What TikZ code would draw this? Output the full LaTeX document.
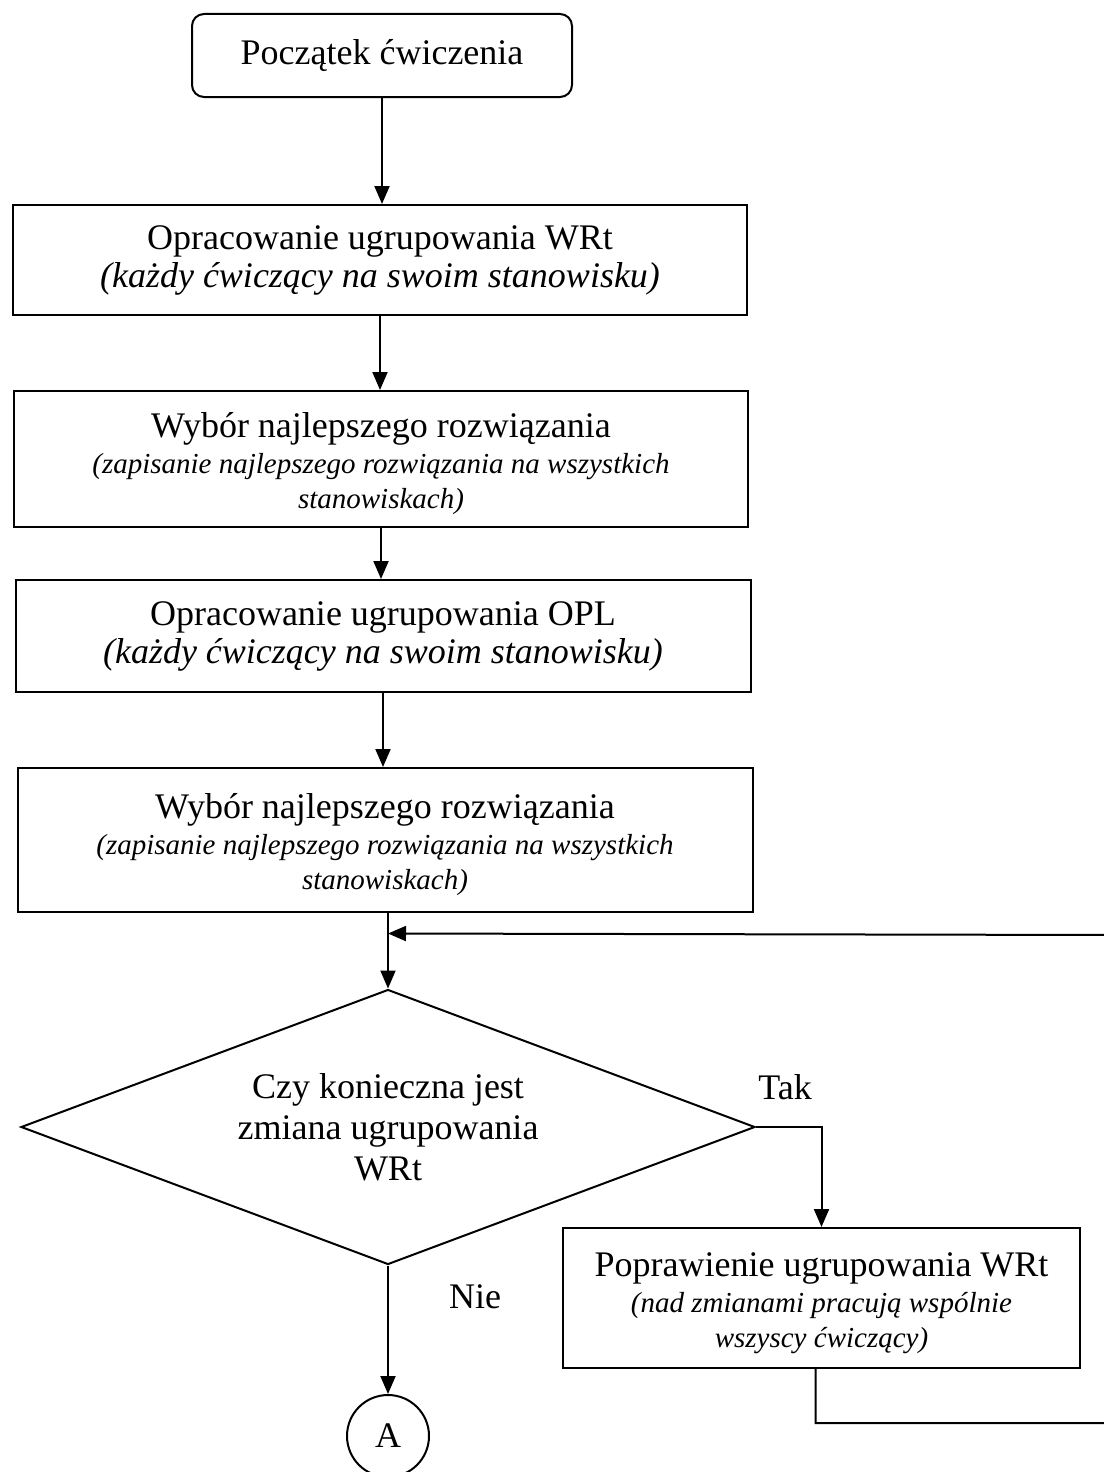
\documentclass[tikz,border=0pt]{standalone}
\usepackage{fontspec}
\setmainfont{Liberation Serif}
\usetikzlibrary{arrows.meta,shapes.geometric,calc}

% italic sub-caption lines
\newcommand\smallit{\fontsize{29}{32}\selectfont\itshape}
% extra headroom above a caption's first line
\newcommand\headroom{\rule{0pt}{35pt}}

\begin{document}
\begin{tikzpicture}[x=1pt,y=-1pt,
  every node/.style={font=\fontsize{36}{39}\selectfont},
  flowbox/.style={draw, line width=2pt, inner sep=0pt, align=center},
  link/.style={line width=2pt},
  arr/.style={link, -{Triangle[length=18pt,width=15pt]}},
  lbl/.style={inner sep=0pt}
]
\useasboundingbox (0,0) rectangle (1103,1472);

% process steps
\node[flowbox, rounded corners=12pt, minimum width=380pt, minimum height=83pt]
  (start) at (382,55.5) {Początek ćwiczenia};

\node[flowbox, minimum width=734pt, minimum height=110pt] (wrt) at (380,260)
  {Opracowanie ugrupowania WRt\\[-1pt]\textit{(każdy ćwiczący na swoim stanowisku)}};

\node[flowbox, minimum width=734pt, minimum height=136pt] (best1) at (381,459)
  {\headroom Wybór najlepszego rozwiązania\\[-3pt]\smallit (zapisanie najlepszego rozwiązania na wszystkich\\[-4pt]\smallit stanowiskach)};

\node[flowbox, minimum width=735pt, minimum height=112pt] (opl) at (383,636)
  {Opracowanie ugrupowania OPL\\[-1pt]\textit{(każdy ćwiczący na swoim stanowisku)}};

\node[flowbox, minimum width=735pt, minimum height=144pt] (best2) at (385,840)
  {\headroom Wybór najlepszego rozwiązania\\[-3pt]\smallit (zapisanie najlepszego rozwiązania na wszystkich\\[-4pt]\smallit stanowiskach)};

% decision
\node[draw, line width=2pt, diamond, shape aspect=2.67, inner sep=0pt,
  minimum width=734pt, minimum height=275pt, align=center] (dec) at (388,1127)
  {Czy konieczna jest\\[2pt]zmiana ugrupowania\\[2pt]WRt};

\node[flowbox, minimum width=517pt, minimum height=140pt] (fix) at (821.5,1298)
  {\headroom Poprawienie ugrupowania WRt\\[-3pt]\smallit (nad zmianami pracują wspólnie\\[-4pt]\smallit wszyscy ćwiczący)};

\node[draw, line width=2pt, circle, minimum size=82pt, inner sep=0pt] (A) at (388,1436) {A};

% branch labels
\node[lbl] (yes) at (785,1087) {Tak};
\node[lbl] (no) at (475,1297) {Nie};

% connectors
\draw[arr] (start.south) -- (start.south |- wrt.north);
\draw[arr] (wrt.south) -- (wrt.south |- best1.north);
\draw[arr] (best1.south) -- (best1.south |- opl.north);
\draw[arr] (opl.south) -- (opl.south |- best2.north);
\draw[arr] (best2.south -| dec.north) -- (dec.north);

\path (dec.north) ++(0,-55) coordinate (merge);
\draw[arr] (dec.east) -| (fix.north);
\draw[arr] (dec.south) -- (A.north);

% loop back from the correction step
\coordinate (fixout) at ([xshift=-6pt]fix.south);
\coordinate (rdown) at (1112,1423);
\coordinate (rup) at (1112,935);
\draw[arr] (fixout) |- (rdown) -- (rup) -- (merge);
\end{tikzpicture}
\end{document}
